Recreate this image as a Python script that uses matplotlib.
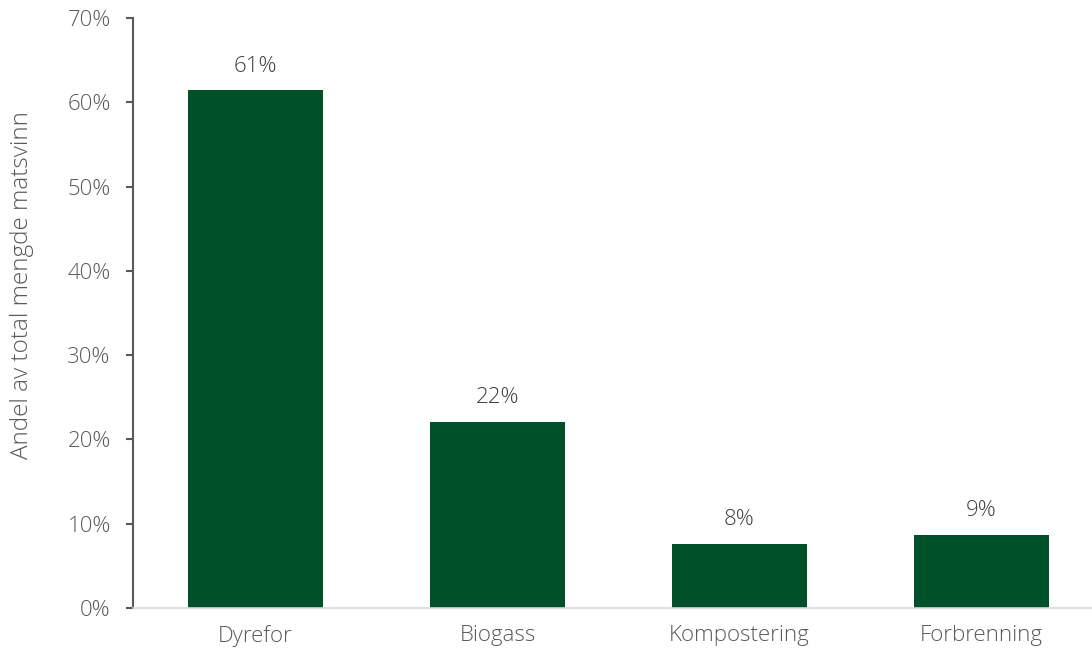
import matplotlib
matplotlib.use("Agg")
import matplotlib.pyplot as plt
from matplotlib.ticker import PercentFormatter

categories = ["Dyrefor", "Biogass", "Kompostering", "Forbrenning"]
shares = [61.4, 22.1, 7.6, 8.7]  # percent of total food waste
yticks = [0, 10, 20, 30, 40, 50, 60, 70]

plt.rcParams["font.family"] = ["Open Sans", "DejaVu Sans"]
text_color = "#595959"
value_color = "#404040"
bar_color = "#00502A"
fs = 16

fig = plt.figure(figsize=(10.92, 6.52), dpi=100)
ax = fig.add_axes([0.1218, 0.0675, 0.8782, 0.9049])

x = range(len(categories))
bars = ax.bar(x, shares, width=0.56, color=bar_color, zorder=2)

for rect, v in zip(bars, shares):
    ax.annotate(f"{v:.0f}%", (rect.get_x() + rect.get_width() / 2, v),
                xytext=(0, 10), textcoords="offset points",
                ha="center", va="bottom", fontsize=fs, color=value_color,
                fontweight="light")

ax.set_xlim(-0.506, 3.457)
ax.set_ylim(0, 70)
ax.set_yticks(yticks)
ax.yaxis.set_major_formatter(PercentFormatter(decimals=0))
ax.set_xticks(list(x))
ax.set_xticklabels(categories)

for side in ("top", "right"):
    ax.spines[side].set_visible(False)
ax.spines["left"].set_color("#595959")
ax.spines["left"].set_linewidth(1.5)
ax.spines["bottom"].set_color("#d9d9d9")
ax.spines["bottom"].set_linewidth(1.2)

ax.tick_params(axis="y", direction="out", length=5, width=1.5, color="#595959",
               labelsize=fs, labelcolor=text_color, pad=11)
ax.tick_params(axis="x", length=0, labelsize=fs, labelcolor=text_color, pad=12)
for lab in ax.get_xticklabels() + ax.get_yticklabels():
    lab.set_fontweight("light")

ax.set_ylabel("Andel av total mengde matsvinn", fontsize=17.5, color=text_color,
              fontweight="light")
ax.yaxis.set_label_coords(-0.103, 0.547)

fig.savefig("out.png", dpi=100)
